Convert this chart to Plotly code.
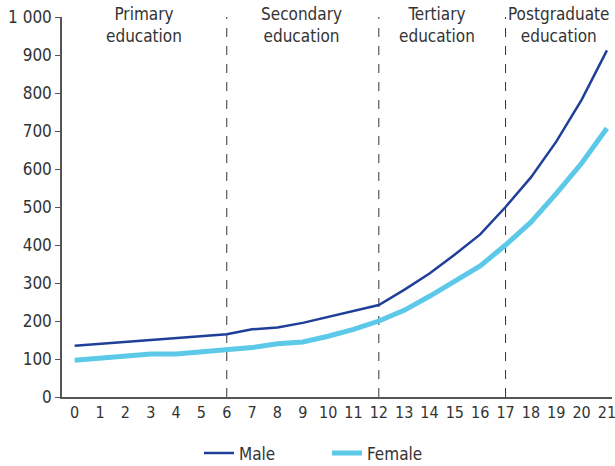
import plotly.graph_objects as go

years = list(range(22))
male = [135, 140, 145, 150, 155, 160, 165, 178, 183, 195, 210, 225, 242,
        282, 325, 375, 428, 500, 578, 672, 782, 912]
female = [97, 103, 108, 113, 113, 118, 123, 130, 140, 145, 160, 178, 200,
          228, 265, 305, 345, 400, 460, 535, 615, 707]
stage_breaks = [6, 12, 17]
stage_labels = ["Primary<br>education", "Secondary<br>education",
                "Tertiary<br>education", "Postgraduate<br>education"]
stage_centres = [2.75, 8.95, 14.3, 19.1]

FONT = "DejaVu Sans Condensed, Roboto, Arial"

fig = go.Figure()
fig.add_trace(go.Scatter(x=years, y=male, name="Male", mode="lines",
                         line=dict(color="#1F3F99", width=2.5)))
fig.add_trace(go.Scatter(x=years, y=female, name="Female", mode="lines",
                         line=dict(color="#5CC9E9", width=5)))

for xb in stage_breaks:
    fig.add_shape(type="line", x0=xb, x1=xb, y0=0, y1=1000, xref="x", yref="y",
                  line=dict(color="#333333", width=1, dash="dash"), layer="below")

for xc, lab in zip(stage_centres, stage_labels):
    fig.add_annotation(x=xc, y=1.04, xref="x", yref="paper", text=lab,
                       showarrow=False, yanchor="top",
                       font=dict(size=17, color="#333333", family=FONT))

fig.update_layout(
    width=615, height=466,
    margin=dict(l=62, r=3, t=17, b=69, autoexpand=False),
    plot_bgcolor="white", paper_bgcolor="white",
    separators=". ",
    font=dict(family=FONT, size=17, color="#333333"),
    legend=dict(orientation="h", x=0.249, xanchor="left", y=-0.101, yanchor="top",
                font=dict(size=17), entrywidth=83, entrywidthmode="pixels"),
)
fig.update_xaxes(range=[-0.5, 21.2], tickmode="array", tickvals=years,
                 showgrid=False, zeroline=False, showline=True,
                 linecolor="#555555", linewidth=1.5, ticks="",
                 tickfont=dict(size=16), ticklabeloverflow="allow")
fig.update_yaxes(range=[0, 1000], dtick=100, tickformat=",d",
                 showgrid=False, zeroline=False, showline=True,
                 linecolor="#555555", linewidth=1.5, ticks="outside",
                 ticklen=5, tickcolor="#555555")

# drop the browser's default 8px body margin so the figure sits at the corner
fig.write_html("out.html", config={"displayModeBar": False},
               post_script="document.body.style.margin='0';")
